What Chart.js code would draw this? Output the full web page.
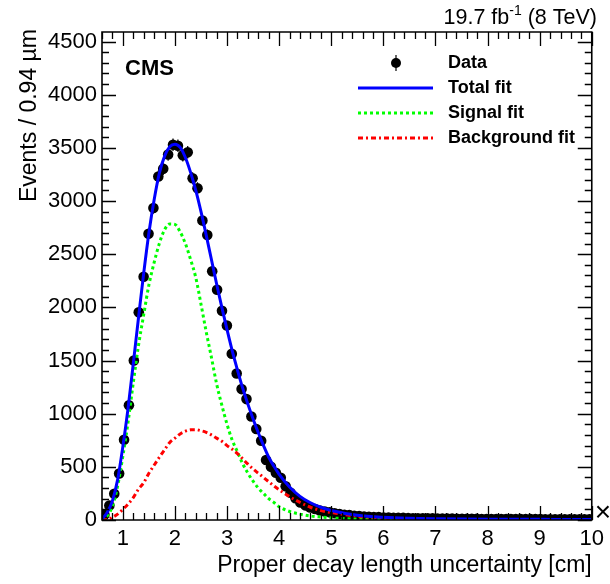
<!DOCTYPE html>
<html><head><meta charset="utf-8">
<script src="https://cdn.jsdelivr.net/npm/chart.js@4/dist/chart.umd.min.js"></script>
<style>html,body{margin:0;padding:0;background:#fff}#wrap{width:610px;height:584px;position:relative}</style>
</head><body><div id="wrap"><canvas id="c" width="610" height="584"></canvas></div>
<script>
// ---- data ----
const binLow = 0.6, binWidth = 0.094;
const dataCounts = [
  49, 136, 246, 437, 754, 1080, 1500, 1953, 2288, 2693,
  2935, 3231, 3303, 3438, 3530, 3520, 3430, 3458, 3215, 3121,
  2817, 2680, 2340, 2165, 1967, 1829, 1563, 1378, 1231, 1137,
  973, 856, 746, 565, 500, 445, 398, 318, 256, 205,
  165, 138, 118, 103, 90, 80, 72, 64, 57, 50,
  46, 40, 37, 33, 31, 28, 27, 24, 23, 21,
  20, 20, 18, 17, 17, 16, 15, 15, 14, 14,
  13, 13, 12, 12, 12, 11, 11, 10, 10, 10,
  10, 9, 9, 9, 9, 8, 8, 8, 8, 8,
  7, 7, 7, 7, 7, 6, 6, 6, 6, 6
];
const fitX = [0.6,0.7,0.8,0.9,1.0,1.1,1.2,1.3,1.4,1.5,1.6,1.7,1.8,1.9,2.0,2.1,2.2,2.3,2.4,2.5,2.6,2.7,2.8,2.9,3.0,3.1,3.2,3.3,3.4,3.5,3.6,3.7,3.8,3.9,4.0,4.2,4.4,4.6,4.8,5.0,5.5,6.0,6.5,7.0,8.0,9.0,10.0];
const totalFit = [10,70,180,380,690,1050,1470,1900,2320,2700,3010,3260,3420,3510,3535,3505,3410,3270,3100,2900,2680,2450,2220,2000,1790,1590,1410,1240,1090,950,820,700,590,505,430,310,222,162,120,90,45,25,16,12,8,6,5];
const signalFit = [0,40,130,320,600,920,1290,1640,1930,2210,2420,2600,2730,2785,2780,2710,2600,2450,2280,2030,1770,1530,1280,1080,900,750,640,530,440,365,300,250,200,165,125,80,55,38,28,20,8,3,1,0,0,0,0];
const backgroundFit = [0,5,25,55,100,150,210,290,350,440,515,590,660,730,770,810,835,848,850,840,825,800,770,740,700,665,625,575,525,480,440,400,360,320,285,220,165,120,88,70,35,20,10,5,2,1,0];
const xTickLabels = [1,2,3,4,5,6,7,8,9,10];
const yTickLabels = [0,500,1000,1500,2000,2500,3000,3500,4000,4500];
const legendLabels = ['Data','Total fit','Signal fit','Background fit'];

const FONT = '"Liberation Sans", Arial, Helvetica, sans-serif';
const dataPts = dataCounts.map((v,i)=>({x: binLow + binWidth*(i+0.5), y: v}));
const mk = arr => fitX.map((x,i)=>({x, y: arr[i]}));

function drawFrameAndTicks(chart) {
  const ctx = chart.ctx, ca = chart.chartArea, xs = chart.scales.x, ys = chart.scales.y;
  ctx.save();
  ctx.setLineDash([]);
  ctx.strokeStyle = '#000'; ctx.lineWidth = 1.3;
  for (let k = 0; k <= 47; k++) {
    const v = 0.6 + 0.2*k;
    const major = Math.abs(v - Math.round(v)) < 1e-6;
    const len = major ? 14 : 7;
    const px = Math.round(xs.getPixelForValue(v)) + 0.5;
    ctx.beginPath();
    ctx.moveTo(px, ca.bottom); ctx.lineTo(px, ca.bottom - len);
    ctx.moveTo(px, ca.top); ctx.lineTo(px, ca.top + len);
    ctx.stroke();
  }
  for (let v = 0; v <= 4500; v += 100) {
    const major = v % 500 === 0;
    const len = major ? 14 : 7;
    const py = Math.round(ys.getPixelForValue(v)) + 0.5;
    ctx.beginPath();
    ctx.moveTo(ca.left, py); ctx.lineTo(ca.left + len, py);
    ctx.moveTo(ca.right, py); ctx.lineTo(ca.right - len, py);
    ctx.stroke();
  }
  ctx.lineWidth = 1.6;
  ctx.beginPath();
  ctx.rect(ca.left, ca.top, ca.right - ca.left, ca.bottom - ca.top);
  ctx.stroke();
  ctx.restore();
}

const decorPlugin = {
  id: 'decor',
  beforeDatasetsDraw(chart) {
    const ctx = chart.ctx, xs = chart.scales.x, ys = chart.scales.y;
    ctx.save();
    ctx.setLineDash([]);
    ctx.strokeStyle = '#000'; ctx.lineWidth = 1.2;
    dataPts.forEach(p => {
      const e = Math.sqrt(p.y);
      const px = xs.getPixelForValue(p.x);
      const y1 = ys.getPixelForValue(p.y + e), y2 = ys.getPixelForValue(Math.max(0, p.y - e));
      ctx.beginPath(); ctx.moveTo(px, y1); ctx.lineTo(px, y2); ctx.stroke();
    });
    ctx.restore();
  },
  afterDraw(chart) {
    drawFrameAndTicks(chart);
    const ctx = chart.ctx, ca = chart.chartArea;
    ctx.save();
    ctx.setLineDash([]);
    ctx.fillStyle = '#000';
    // axis titles
    ctx.font = '23px ' + FONT;
    ctx.textAlign = 'right'; ctx.textBaseline = 'middle';
    ctx.fillText('Proper decay length uncertainty [cm]', ca.right, 566);
    ctx.save();
    ctx.translate(30, ca.top - 3);
    ctx.rotate(-Math.PI/2);
    ctx.textAlign = 'right';
    ctx.fillText('Events / 0.94 \u00b5m', 0, 0);
    ctx.restore();
    // lumi text
    ctx.textBaseline = 'alphabetic'; ctx.textAlign = 'left';
    const big = '21.5px ' + FONT, small = '14px ' + FONT;
    ctx.font = big; const w1 = ctx.measureText('19.7 fb').width;
    ctx.font = small; const w2 = ctx.measureText('-1').width;
    ctx.font = big; const w3 = ctx.measureText(' (8 TeV)').width;
    let x0 = 597 - (w1 + w2 + w3);
    ctx.fillText('19.7 fb', x0, 24);
    ctx.font = small; ctx.fillText('-1', x0 + w1, 15);
    ctx.font = big; ctx.fillText(' (8 TeV)', x0 + w1 + w2, 24);
    // CMS
    ctx.font = 'bold 22px ' + FONT; ctx.textBaseline = 'middle';
    ctx.fillText('CMS', 125, 69);
    // cross at end of x axis
    ctx.font = '28px ' + FONT; ctx.textAlign = 'center';
    ctx.fillText('\u00d7', 603, 513);
    // legend
    const rows = [63, 88, 113, 138];
    ctx.textAlign = 'left'; ctx.font = 'bold 18px ' + FONT;
    legendLabels.forEach((t,i) => ctx.fillText(t, 448, rows[i]));
    ctx.lineWidth = 1.2; ctx.strokeStyle = '#000';
    ctx.beginPath(); ctx.moveTo(396, rows[0]-8); ctx.lineTo(396, rows[0]+8); ctx.stroke();
    ctx.beginPath(); ctx.arc(396, rows[0], 5, 0, Math.PI*2); ctx.fill();
    const lines = [['#0000ff', []], ['#00ff00', [3,3]], ['#ff0000', [5,3,2,3]]];
    lines.forEach((l,i) => {
      ctx.strokeStyle = l[0]; ctx.lineWidth = 3; ctx.setLineDash(l[1]);
      ctx.beginPath(); ctx.moveTo(358, rows[i+1]); ctx.lineTo(433, rows[i+1]); ctx.stroke();
    });
    ctx.restore();
  }
};

new Chart(document.getElementById('c'), {
  type: 'scatter',
  data: {
    datasets: [
      { label: 'Total fit', type: 'line', data: mk(totalFit), borderColor: '#0000ff', borderWidth: 3,
        pointRadius: 0, cubicInterpolationMode: 'monotone', fill: false, order: 1 },
      { label: 'Background fit', type: 'line', data: mk(backgroundFit), borderColor: '#ff0000', borderWidth: 3,
        borderDash: [5,3,2,3], pointRadius: 0, cubicInterpolationMode: 'monotone', fill: false, order: 2 },
      { label: 'Signal fit', type: 'line', data: mk(signalFit), borderColor: '#00ff00', borderWidth: 3,
        borderDash: [3,3], pointRadius: 0, cubicInterpolationMode: 'monotone', fill: false, order: 3 },
      { label: 'Data', data: dataPts, pointRadius: 5.3, pointBackgroundColor: '#000', pointBorderWidth: 0,
        backgroundColor: '#000', borderColor: '#000', order: 4 }
    ]
  },
  options: {
    responsive: false, animation: false, devicePixelRatio: 1,
    layout: { padding: { top: 32, right: 15, left: 0, bottom: 0 } },
    plugins: { legend: { display: false }, tooltip: { enabled: false } },
    scales: {
      x: { type: 'linear', min: 0.6, max: 10,
        afterBuildTicks: s => { s.ticks = xTickLabels.map(v => ({ value: v })); },
        afterFit: s => { s.height = 64; },
        grid: { display: false, drawTicks: false }, border: { display: false },
        ticks: { color: '#000', font: { family: FONT, size: 22 }, padding: 6, maxRotation: 0, autoSkip: false,
          callback: v => String(v) } },
      y: { type: 'linear', min: 0, max: 4590,
        afterBuildTicks: s => { s.ticks = yTickLabels.map(v => ({ value: v })); },
        afterFit: s => { s.width = 102; },
        grid: { display: false, drawTicks: false }, border: { display: false },
        ticks: { color: '#000', font: { family: FONT, size: 22 }, padding: 5, autoSkip: false,
          callback: v => String(v) } }
    }
  },
  plugins: [decorPlugin]
});
</script>
</body></html>
